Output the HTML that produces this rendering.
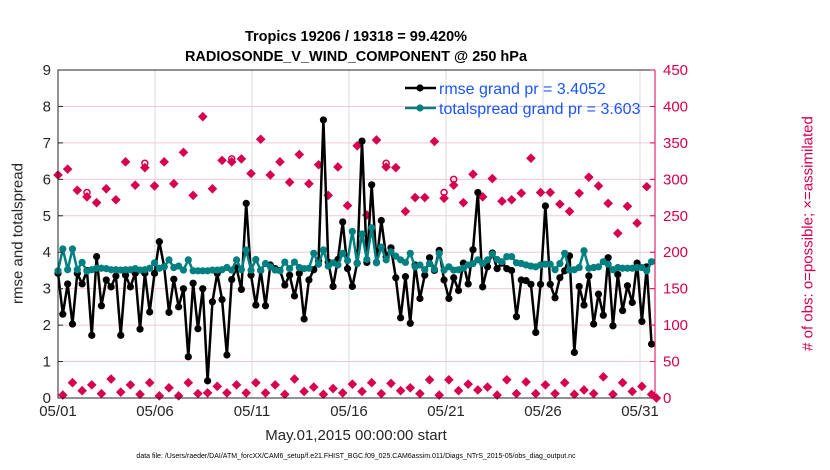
<!DOCTYPE html>
<html><head><meta charset="utf-8"><style>
body{margin:0;background:#fff;}
svg{display:block;font-family:"Liberation Sans",sans-serif;}
</style></head><body>
<svg id="chart" width="830" height="470">
<g id="grid"></g><g id="marks"></g><g id="axes"></g>
</svg>
<script>
const dayLabels=["05/01","05/06","05/11","05/16","05/21","05/26","05/31"];
const dayTicks=[0,5,10,15,20,25,30];
const leftTicks=[0,1,2,3,4,5,6,7,8,9];
const rightTicks=[0,50,100,150,200,250,300,350,400,450];
const rmse=[3.42,2.3,3.13,2.03,3.42,3.13,3.5,1.72,3.88,2.53,3.24,3.05,3.35,1.72,3.37,3.05,3.42,1.89,3.42,2.36,3.42,4.29,3.6,2.35,3.26,2.5,3.0,1.13,3.15,1.9,3.0,0.47,
2.64,3.42,2.7,1.18,3.25,3.57,2.98,5.34,3.37,2.55,3.5,2.53,3.65,3.55,3.5,3.1,3.37,2.8,3.42,2.17,3.24,3.52,3.77,7.63,3.73,3.06,3.8,4.83,3.55,3.06,3.7,
7.05,3.72,5.85,3.72,4.87,3.88,4.12,3.3,2.2,3.33,2.05,3.65,2.73,3.37,3.85,3.5,4.05,3.24,2.73,3.3,2.95,3.7,3.13,4.07,5.64,3.05,3.6,3.98,3.55,3.7,3.55,
3.5,2.23,3.24,3.22,3.12,1.8,3.12,5.27,3.12,2.75,3.3,3.49,3.9,1.25,3.06,2.55,3.35,2.03,2.85,2.27,3.85,1.98,3.39,2.4,3.08,2.62,3.7,2.1,3.6,1.48];
const spread=[3.49,4.09,3.52,4.09,3.52,3.72,3.48,3.52,3.56,3.56,3.55,3.52,3.52,3.51,3.52,3.52,3.55,3.51,3.52,3.56,3.71,3.56,3.6,3.79,3.58,3.62,3.51,3.79,3.49,3.49,3.49,3.49,
3.51,3.51,3.52,3.58,3.51,3.79,3.52,4.06,3.51,3.8,3.51,3.69,3.6,3.51,3.49,3.73,3.55,3.73,3.58,3.55,3.56,3.97,3.67,4.06,3.62,3.71,3.65,3.97,3.77,4.57,3.69,
4.5,3.8,4.67,3.71,4.14,3.79,4.01,3.89,3.79,3.72,3.97,3.6,3.65,3.52,3.69,3.53,3.97,3.51,3.6,3.51,3.52,3.56,3.65,3.69,3.79,3.69,3.79,3.95,3.8,3.74,3.88,
3.88,3.71,3.69,3.65,3.62,3.6,3.65,3.67,3.67,3.52,3.69,3.97,3.51,3.52,3.58,4.04,3.56,3.58,3.6,3.74,3.67,3.52,3.58,3.56,3.56,3.56,3.58,3.58,3.49,3.74];
const obsAssim=[306,4,314,21,285,10,276,18,268,6,287,26,272,8,324,18,292,5,316,21,291,3,324,14,294,3,337,21,278,6,386,7,
287,16,326,7,324,18,328,7,308,21,355,7,306,18,324,5,296,26,334,9,294,15,320,5,278,13,317,7,264,19,346,
9,251,21,354,6,317,20,316,10,256,14,275,6,275,25,352,4,274,25,292,10,268,19,307,11,276,15,301,4,270,25,
272,6,281,22,329,6,282,18,282,6,266,21,256,5,281,11,303,6,291,29,267,5,226,21,263,9,240,16,290,5,0];
const obsPossible=[306,4,314,21,285,10,282,18,268,6,287,26,272,8,324,18,292,5,322,21,291,3,324,14,294,3,337,21,278,6,386,7,
287,16,326,7,328,18,328,7,308,21,355,7,306,18,324,5,296,26,334,9,294,15,320,5,278,13,317,7,264,19,346,
9,251,21,354,6,322,20,316,10,256,14,275,6,275,25,352,4,282,25,300,10,268,19,307,11,276,15,301,4,270,25,
272,6,281,22,329,6,282,18,282,6,266,21,256,5,281,11,303,6,291,29,267,5,226,21,263,9,240,16,290,5,0];

const X0=58,X1=655,YT=70,YB=398,DAY=19.4;
const xs=d=>X0+d*DAY;
const xi=i=>xs(i/4*0.995);
const yl=v=>YB-v*(YB-YT)/9;
const yr=v=>YB-v*(YB-YT)/450;
const NS="http://www.w3.org/2000/svg";
function mk(tag,attrs,parent,text){const e=document.createElementNS(NS,tag);for(const k in attrs)e.setAttribute(k,attrs[k]);if(text!==undefined)e.textContent=text;parent.appendChild(e);return e;}
const grid=document.getElementById('grid'),marks=document.getElementById('marks'),axes=document.getElementById('axes');
const PINK="#d6004f";
leftTicks.forEach(v=>{const l=mk('line',{x1:X0,x2:X1,y1:yl(v),y2:yl(v),stroke:"#f4c6d6","stroke-width":1},grid);

});
dayTicks.forEach(d=>{const l=mk('line',{x1:xs(d),x2:xs(d),y1:YT,y2:YB,stroke:"#d8d8d8","stroke-width":1},grid);

});
obsPossible.forEach((v,i)=>{if(v!==obsAssim[i]){const c=mk('circle',{cx:xi(i),cy:yr(v),r:3,fill:"none",stroke:PINK,"stroke-width":1.5},marks);

}});
obsAssim.forEach((v,i)=>{const x=xi(i),y=yr(v),r=4.8;const p=mk('path',{d:`M${x} ${y-r}L${x+r} ${y}L${x} ${y+r}L${x-r} ${y}Z`,fill:PINK},marks);

});
function series(arr,color,name,r){
const pl=mk('polyline',{points:arr.map((v,i)=>xi(i)+","+yl(v)).join(" "),fill:"none",stroke:color,"stroke-width":2.5,"stroke-linejoin":"round"},marks);


arr.forEach((v,i)=>{const c=mk('circle',{cx:xi(i),cy:yl(v),r:r,fill:color},marks);

});}
series(rmse,"#000","rmse",3.6);
series(spread,"#008080","totalspread",3.6);
const fr=mk('path',{d:`M${X1} ${YT}L${X0} ${YT}L${X0} ${YB}L${X1} ${YB}`,fill:"none",stroke:"#262626","stroke-width":1},axes);


const ra=mk('line',{x1:X1,x2:X1,y1:YT,y2:YB,stroke:PINK,"stroke-width":1},axes);


leftTicks.forEach(v=>{const t=mk('text',{x:X0-7,y:yl(v)+5,"text-anchor":"end","font-size":15,fill:"#262626"},axes,String(v));


mk('line',{x1:X0,x2:X0+5,y1:yl(v),y2:yl(v),stroke:"#262626"},axes);});
rightTicks.forEach(v=>{const t=mk('text',{x:X1+8,y:yr(v)+5,"font-size":15,fill:PINK},axes,String(v));


mk('line',{x1:X1-5,x2:X1,y1:yr(v),y2:yr(v),stroke:PINK},axes);});
dayTicks.forEach((d,k)=>{const t=mk('text',{x:xs(d),y:416,"text-anchor":"middle","font-size":15,fill:"#262626"},axes,dayLabels[k]);

});
const lg=mk('g',{},axes);


[["rmse grand pr = 3.4052","#000",88],["totalspread grand pr = 3.603","#008080",108]].forEach(([txt,c,y])=>{
mk('line',{x1:405,x2:436,y1:y,y2:y,stroke:c,"stroke-width":2.5},lg);
mk('circle',{cx:420,cy:y,r:3.6,fill:c},lg);
const t=mk('text',{x:439,y:y+6,"font-size":16,fill:"#1a56ff"},lg,txt);

});
</script>
<div style="position:absolute;left:0;top:0;width:830px;height:470px;pointer-events:none;font-family:'Liberation Sans',sans-serif;">
<div style="position:absolute;left:0;width:712px;top:27px;text-align:center;font-weight:bold;font-size:14.5px;line-height:20px;color:#000;">Tropics 19206 / 19318 = 99.420%<br>RADIOSONDE_V_WIND_COMPONENT @ 250 hPa</div>
<div style="position:absolute;left:0;width:712px;top:427px;text-align:center;font-size:15px;color:#262626;">May.01,2015 00:00:00 start</div>
<div style="position:absolute;left:-132px;top:225px;width:300px;text-align:center;font-size:15px;color:#262626;transform:rotate(-90deg);">rmse and totalspread</div>
<div style="position:absolute;left:653px;top:225px;width:310px;text-align:center;font-size:15px;color:#d6004f;transform:rotate(-90deg);"># of obs: o=possible; ×=assimilated</div>
<div style="position:absolute;left:0;width:712px;top:453px;text-align:center;font-size:7px;color:#000;">data file: /Users/raeder/DAI/ATM_forcXX/CAM6_setup/f.e21.FHIST_BGC.f09_025.CAM6assim.011/Diags_NTrS_2015-05/obs_diag_output.nc</div>
</div>
</body></html>
